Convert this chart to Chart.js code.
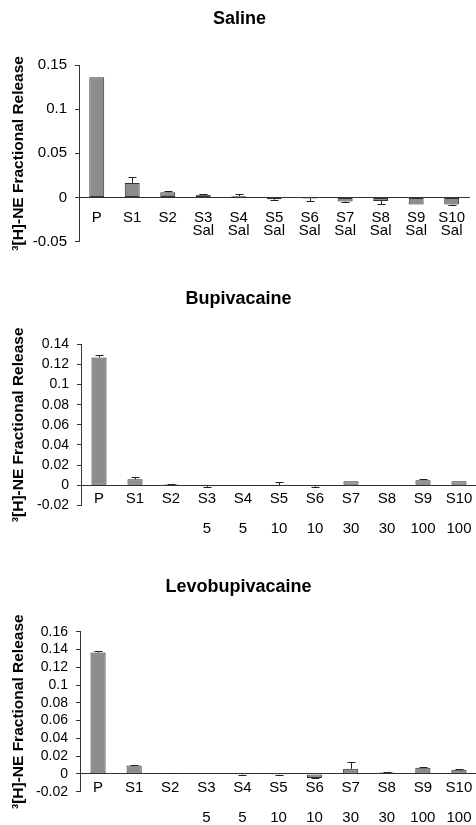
<!DOCTYPE html>
<html lang="en">
<head>
    <meta charset="UTF-8">
    <title>3H-NE Fractional Release</title>
    <script src="https://cdn.jsdelivr.net/npm/chart.js"></script>
    <style>
        html, body {
            margin: 0;
            padding: 0;
            background: #ffffff;
            overflow: hidden;
            width: 476px;
            height: 825px;
        }
        .panel {
            position: absolute;
            left: 0;
        }
    </style>
</head>
<body>

    <canvas id="salineChart" class="panel" style="top:0px" width="479" height="270"></canvas>
    <canvas id="bupiChart" class="panel" style="top:280px" width="477" height="265"></canvas>
    <canvas id="levoChart" class="panel" style="top:560px" width="477" height="265"></canvas>

    <script>
        // categories and second label rows
        const categories = ['P', 'S1', 'S2', 'S3', 'S4', 'S5', 'S6', 'S7', 'S8', 'S9', 'S10'];
        const salineDoses = ['', '', '', 'Sal', 'Sal', 'Sal', 'Sal', 'Sal', 'Sal', 'Sal', 'Sal'];
        const drugDoses = ['', '', '', '5', '5', '10', '10', '30', '30', '100', '100'];

        // fractional release (mean) and error (one-sided SEM)
        const salineMeans = [0.136, 0.0165, 0.006, 0.003, 0.0015, -0.002, -0.001, -0.0045, -0.004, -0.008, -0.008];
        const salineErrors = [0, 0.0065, 0.001, 0.001, 0.003, 0.001, 0.003, 0.0005, 0.003, 0, 0.001];

        const bupiMeans = [0.127, 0.006, 0.001, -0.001, 0.0005, 0, -0.001, 0.004, 0, 0.005, 0.004];
        const bupiErrors = [0.0025, 0.0025, 0.0005, 0.0005, 0, 0.003, 0.0005, 0, 0, 0.001, 0];

        const levoMeans = [0.1365, 0.0095, 0.001, 0, -0.001, -0.001, -0.0045, 0.0057, 0.0015, 0.007, 0.0048];
        const levoErrors = [0.002, 0.0008, 0.0003, 0, 0.0003, 0.0003, 0.0003, 0.008, 0.0008, 0.0003, 0.0008];

        const FONT = "'Liberation Sans', Arial, sans-serif";

        // simple one-sided error bars, drawn through the y scale
        const errorBars = {
            id: 'errorBars',
            afterDatasetsDraw(chart) {
                const ctx = chart.ctx;
                const yScale = chart.scales.y;
                chart.data.datasets.forEach((ds, di) => {
                    const meta = chart.getDatasetMeta(di);
                    meta.data.forEach((bar, i) => {
                        const v = ds.data[i];
                        const e = ds.errors[i];
                        if (!e) return;
                        const end = v >= 0 ? v + e : v - e;
                        const y0 = yScale.getPixelForValue(v);
                        const y1 = Math.round(yScale.getPixelForValue(end)) + 0.5;
                        const x = Math.round(bar.x) + 0.5;
                        ctx.save();
                        ctx.strokeStyle = '#222';
                        ctx.lineWidth = 1;
                        ctx.beginPath();
                        ctx.moveTo(x, y0);
                        ctx.lineTo(x, y1);
                        ctx.moveTo(x - 4, y1);
                        ctx.lineTo(x + 4, y1);
                        ctx.stroke();
                        ctx.restore();
                    });
                });
            }
        };

        function makeChart(id, opts) {
            return new Chart(document.getElementById(id), {
                type: 'bar',
                data: {
                    labels: categories,
                    datasets: [{
                        data: opts.means,
                        errors: opts.errors,
                        backgroundColor: '#8c8c8c',
                        borderColor: '#333333',
                        borderWidth: 1,
                        borderSkipped: false,
                        categoryPercentage: 1,
                        barPercentage: 0.42
                    }]
                },
                options: {
                    responsive: false,
                    animation: false,
                    events: [],
                    layout: {
                        padding: { left: 0, right: 0, top: 0, bottom: opts.padBottom }
                    },
                    plugins: {
                        legend: { display: false },
                        tooltip: { enabled: false },
                        title: {
                            display: true,
                            text: opts.title,
                            color: '#000',
                            font: { family: FONT, size: 18, weight: 'bold', lineHeight: 1.2 },
                            padding: { top: opts.titleTop, bottom: opts.titleBottom }
                        }
                    },
                    scales: {
                        x: {
                            position: { y: 0 },
                            afterFit: s => { s.height = 0; },
                            grid: { display: false, drawTicks: false, tickLength: 0 },
                            border: { display: true, color: '#333', width: 1 },
                            ticks: {
                                color: '#000',
                                autoSkip: false,
                                maxRotation: 0,
                                minRotation: 0,
                                padding: opts.labelPad,
                                font: { family: FONT, size: 15, lineHeight: opts.labelLine },
                                callback: (val, i) => opts.doses[i] ? [categories[i], opts.doses[i]] : categories[i]
                            }
                        },
                        y: {
                            min: opts.min,
                            max: opts.max,
                            afterFit: s => { s.width = opts.axisX; },
                            grid: {
                                display: true,
                                drawOnChartArea: false,
                                drawTicks: true,
                                tickLength: 4,
                                color: '#333'
                            },
                            border: { display: true, color: '#333', width: 1 },
                            ticks: {
                                stepSize: opts.step,
                                autoSkip: false,
                                color: '#000',
                                padding: 8,
                                font: { family: FONT, size: opts.tickSize },
                                callback: v => String(+v.toFixed(2))
                            },
                            title: {
                                display: true,
                                text: '³[H]-NE Fractional Release',
                                color: '#000',
                                font: { family: FONT, size: 15.5, weight: 'bold', lineHeight: 1.2 },
                                padding: { top: 9.7, bottom: 0 }
                            }
                        }
                    }
                },
                plugins: [errorBars]
            });
        }

        makeChart('salineChart', {
            title: 'Saline',
            means: salineMeans,
            errors: salineErrors,
            doses: salineDoses,
            min: -0.05, max: 0.15, step: 0.05,
            axisX: 79, tickSize: 15,
            titleTop: 8.2, titleBottom: 35.2, padBottom: 28.3,
            labelPad: 14, labelLine: '13px'
        });

        makeChart('bupiChart', {
            title: 'Bupivacaine',
            means: bupiMeans,
            errors: bupiErrors,
            doses: drugDoses,
            min: -0.02, max: 0.14, step: 0.02,
            axisX: 81, tickSize: 14,
            titleTop: 8.2, titleBottom: 34.5, padBottom: 39.7,
            labelPad: -1, labelLine: '30px'
        });

        makeChart('levoChart', {
            title: 'Levobupivacaine',
            means: levoMeans,
            errors: levoErrors,
            doses: drugDoses,
            min: -0.02, max: 0.16, step: 0.02,
            axisX: 80, tickSize: 14,
            titleTop: 16.2, titleBottom: 33.9, padBottom: 33.3,
            labelPad: -1, labelLine: '30px'
        });
    </script>
</body>
</html>
